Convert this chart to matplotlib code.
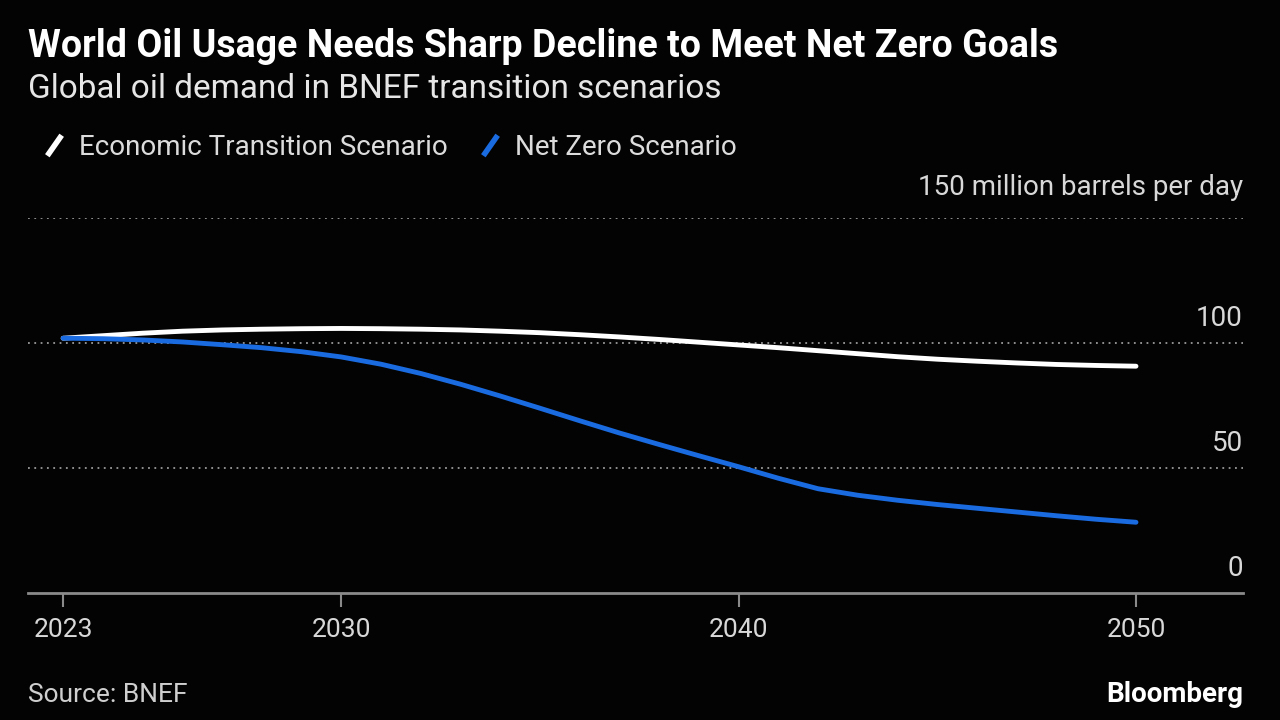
import matplotlib.pyplot as plt
from matplotlib.lines import Line2D

plt.rcParams['font.family'] = ['Liberation Sans Narrow', 'Roboto', 'DejaVu Sans']

years = list(range(2023, 2051))
economic = [102, 103, 104, 104.8, 105.3, 105.6, 105.8, 105.9, 105.8, 105.6,
            105.3, 104.8, 104.2, 103.4, 102.5, 101.5, 100.4, 99.3, 98.2, 97.0,
            95.8, 94.6, 93.6, 92.8, 92.1, 91.5, 91.1, 90.8]
net_zero = [102, 101.8, 101.3, 100.5, 99.4, 98.2, 96.6, 94.5, 91.6, 87.9,
            83.6, 78.9, 74.0, 69.0, 64.1, 59.5, 55.0, 50.6, 46.0, 41.8,
            39.2, 37.2, 35.5, 34.0, 32.5, 31.0, 29.6, 28.4]
xticks = [2023, 2030, 2040, 2050]
yticks = [0, 50, 100, 150]

bg = '#030303'
white = '#ffffff'
blue = '#1a6be0'
grey = '#8a8a8a'

fig = plt.figure(figsize=(12.8, 7.2), dpi=100, facecolor=bg)
ax = fig.add_axes([0.022, 0.176, 0.949, 0.521], facecolor=bg)

ax.plot(years, economic, color=white, lw=3.5, solid_capstyle='round')
ax.plot(years, net_zero, color=blue, lw=3.5, solid_capstyle='round')

ax.set_xlim(2022.12, 2052.69)
ax.set_ylim(0, 150)

# dotted gridlines + labels on the right
for v in yticks[1:]:
    ax.axhline(v, color='#9a9a9a', lw=1.3, ls=(0, (1, 2.5)), zorder=0)
for v in yticks:
    lab = '150 million barrels per day' if v == 150 else str(v)
    off = 12 if v == 150 else 8
    ax.annotate(lab, xy=(1.0, v), xycoords=ax.get_yaxis_transform(),
                xytext=(0, off), textcoords='offset points',
                ha='right', va='bottom', color='#d8d8d8', fontsize=20)

ax.set_yticks([])
ax.set_xticks(xticks)
ax.set_xticklabels([str(x) for x in xticks], color='#d8d8d8', fontsize=19)
ax.tick_params(axis='x', length=10, width=1.5, color=grey, pad=8)
for s in ['top', 'right', 'left']:
    ax.spines[s].set_visible(False)
ax.spines['bottom'].set_color(grey)
ax.spines['bottom'].set_linewidth(2)

fig.text(0.022, 0.935, 'World Oil Usage Needs Sharp Decline to Meet Net Zero Goals',
         color=white, fontsize=27, fontweight='bold', va='center')
fig.text(0.022, 0.877, 'Global oil demand in BNEF transition scenarios',
         color='#e6e6e6', fontsize=24, va='center')

handles = [Line2D([], [], color=white, marker=(2, 0, -35), markersize=18,
                  markeredgewidth=4, linestyle='None'),
           Line2D([], [], color=blue, marker=(2, 0, -35), markersize=18,
                  markeredgewidth=4, linestyle='None')]
fig.legend(handles, ['Economic Transition Scenario', 'Net Zero Scenario'],
           loc='center left', bbox_to_anchor=(0.012, 0.795), ncol=2,
           frameon=False, fontsize=20, labelcolor='#dcdcdc',
           handlelength=1.0, handletextpad=0.4, columnspacing=1.0)

fig.text(0.022, 0.035, 'Source: BNEF', color='#cfcfcf', fontsize=19, va='center')
fig.text(0.971, 0.035, 'Bloomberg', color=white, fontsize=20,
         fontweight='bold', ha='right', va='center')

fig.savefig('out.png', dpi=100, facecolor=bg)
